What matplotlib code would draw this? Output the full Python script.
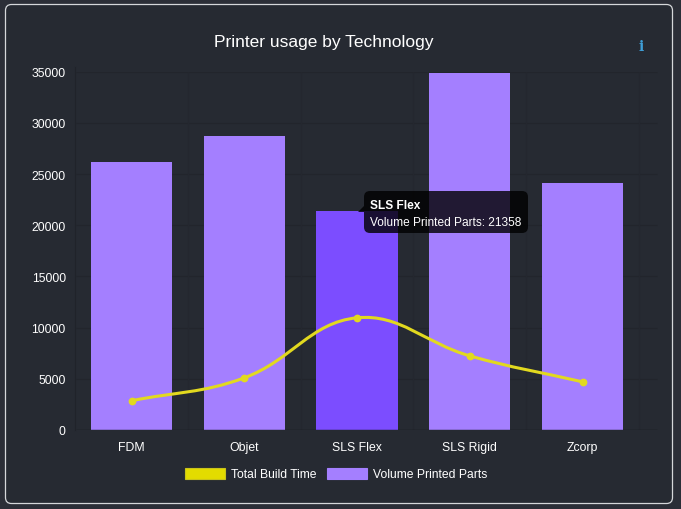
import numpy as np
import matplotlib
matplotlib.use('Agg')
import matplotlib.pyplot as plt
from matplotlib.patches import FancyBboxPatch, Patch, PathPatch, Polygon
from matplotlib.path import Path
from matplotlib.transforms import Affine2D

plt.rcParams['font.family'] = ['Liberation Sans', 'DejaVu Sans']

technologies = ['FDM', 'Objet', 'SLS Flex', 'SLS Rigid', 'Zcorp']
volume_parts = [26200, 28740, 21358, 34900, 24150]
build_time = [2840, 5080, 10950, 7230, 4690]
y_ticks = [0, 5000, 10000, 15000, 20000, 25000, 30000, 35000]
highlighted = 'SLS Flex'

BG = '#262a32'
BAR = '#a47fff'
BAR_HOVER = '#7c4dff'
LINE = '#e2d91f'
W, H = 681, 510

fig = plt.figure(figsize=(W / 100, H / 100), dpi=100, facecolor='#2b2e37')
px = Affine2D().scale(1, -1).translate(0, H)  # pixel coords, origin top left

frame = FancyBboxPatch((10, 10), 658, 490, boxstyle='round,pad=4.5,rounding_size=6',
                       fc=BG, ec='#d5d7da', lw=0.9, transform=px, zorder=-5)
fig.add_artist(frame)

ax = fig.add_axes([75.5 / W, 1 - 430.8 / H, (657 - 75) / W, (430 - 72) / H])
ax.patch.set_alpha(0)
step = 112.75
ax.set_xlim((75 - 131) / step, (657 - 131) / step)
ax.set_ylim(0, 35000)
for s in ax.spines.values():
    s.set_visible(False)

x = np.arange(len(technologies))
colors = [BAR_HOVER if t == highlighted else BAR for t in technologies]
ax.bar(x, volume_parts, width=0.72, color=colors, zorder=2)

# faint grid
ax.hlines(y_ticks[1:], *ax.get_xlim(), color='#22252c', lw=0.8, zorder=1)
ax.hlines(0, *ax.get_xlim(), color='#15171c', lw=1, zorder=3)
ax.vlines(x[0] - 0.5 + np.arange(1, 6), 0, 35000, color='#24272f', lw=0.8, zorder=1)
ax.plot([x[0] - 0.497] * 2, [0, 35500], color='#20232a', lw=0.8, zorder=1, clip_on=False)

ax.set_xticks(x, technologies)
ax.set_yticks(y_ticks)
ax.tick_params(axis='both', length=0, colors='white', labelsize=8.8)
ax.tick_params(axis='x', pad=8)
ax.tick_params(axis='y', pad=7)


# chart.js style spline through the points (tension 0.4)
def spline_path(xs, ys, tension=0.4):
    pts = ax.transData.transform(np.column_stack([xs, ys]))
    verts = [pts[0]]
    codes = [Path.MOVETO]
    out_cp = []
    in_cp = []
    for i, cur in enumerate(pts):
        prev = pts[max(i - 1, 0)]
        nxt = pts[min(i + 1, len(pts) - 1)]
        d01 = np.hypot(*(cur - prev))
        d12 = np.hypot(*(nxt - cur))
        in_cp.append(cur - tension * d01 / (d01 + d12) * (nxt - prev))
        out_cp.append(cur + tension * d12 / (d01 + d12) * (nxt - prev))
    for i in range(1, len(pts)):
        verts += [out_cp[i - 1], in_cp[i], pts[i]]
        codes += [Path.CURVE4] * 3
    return Path(ax.transData.inverted().transform(np.array(verts)), codes)


ax.add_patch(PathPatch(spline_path(x, build_time), fc='none', ec=LINE, lw=2.2, zorder=4))
ax.plot(x, build_time, 'o', color=LINE, ms=5.6, mew=0, zorder=5)

fig.text(324 / W, 1 - 42 / H, 'Printer usage by Technology', color='white', fontsize=12.5,
         ha='center', va='center')
fig.text(641 / W, 1 - 47 / H, 'i', color='#3f9fd8', fontsize=10, family='DejaVu Serif',
         weight='bold', ha='center', va='center')

handles = [Patch(fc='#e3dc00', ec='#c9c31a', lw=0.8, label='Total Build Time'),
           Patch(fc=BAR, ec=BAR, lw=0.8, label='Volume Printed Parts')]
fig.legend(handles=handles, loc='center', bbox_to_anchor=(336 / W, 1 - 475 / H), ncols=2,
           frameon=False, fontsize=8.7, labelcolor='white', handlelength=3.3, handleheight=1.0,
           handletextpad=0.5, columnspacing=0.9, borderpad=0, borderaxespad=0)

# hover tooltip
tip = FancyBboxPatch((368, 196), 156, 34, boxstyle='round,pad=4,rounding_size=6',
                     fc=(0, 0, 0, 0.8), ec='none', transform=px, zorder=10)
fig.add_artist(tip)
fig.add_artist(Polygon([(364, 213), (358, 213), (364, 207)], closed=True, fc=(0, 0, 0, 0.8),
                       ec='none', transform=px, zorder=10))
fig.text(370 / W, 1 - 206 / H, highlighted, color='white', fontsize=8.6, weight='bold',
         va='center', zorder=11)
fig.text(370 / W, 1 - 223 / H, 'Volume Printed Parts: %d' % volume_parts[2], color='white',
         fontsize=8.6, va='center', zorder=11)

fig.savefig('out.png', dpi=100, facecolor=fig.get_facecolor())
